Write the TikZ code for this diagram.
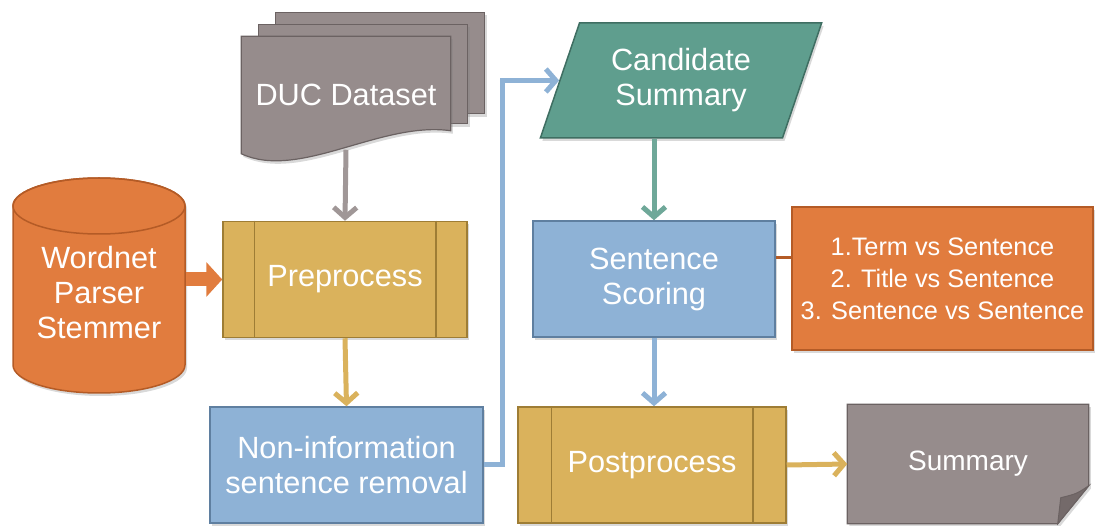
\documentclass[tikz,border=0pt]{standalone}
\usepackage{fontspec}
\setmainfont{Liberation Sans}
\usetikzlibrary{arrows.meta,shapes.geometric,shadows,backgrounds}
\definecolor{docfill}{HTML}{968C8C}
\definecolor{docline}{HTML}{6B6262}
\definecolor{goldfill}{HTML}{DAB25C}
\definecolor{goldline}{HTML}{9E7D35}
\definecolor{bluefill}{HTML}{8EB2D6}
\definecolor{blueline}{HTML}{5F7FA0}
\definecolor{orfill}{HTML}{E17C3E}
\definecolor{orline}{HTML}{B45B26}
\definecolor{greenfill}{HTML}{5F9E8E}
\definecolor{greenline}{HTML}{3F6E62}
\begin{document}
\begin{tikzpicture}[x=1pt,y=-1pt]
	\tikzstyle{shade} = [drop shadow={shadow xshift=2pt,shadow yshift=-3pt,opacity=.3}]
	\tikzstyle{block} = [rectangle,line width=1.5pt,text=white,align=center,inner sep=0pt,
		font=\fontsize{30.7}{35}\selectfont]
	\tikzstyle{process} = [block,shade,fill=goldfill,draw=goldline,minimum height=116pt]
	\tikzstyle{flow} = [line width=5pt,-{Straight Barb[length=10pt,width=23pt]}]
	\useasboundingbox (0,0) rectangle (1096,526);
	% sources
	\node[block,minimum width=208pt,minimum height=116pt] (duc) at (346,95) {DUC Dataset};
	\node[block,minimum width=172pt] (db) at (99,293) {Wordnet\\Parser\\Stemmer};
	% left column
	\node[process,minimum width=244pt] (pre) at (345,279.5) {Preprocess};
	\node[block,shade,fill=bluefill,draw=blueline,minimum width=273pt,minimum height=116pt] (noninfo) at (346.5,465) {Non-information\\sentence removal};
	% right column
	\node[block,shade,trapezium,trapezium left angle=67,trapezium right angle=113,trapezium stretches,
		fill=greenfill,draw=greenline,minimum width=282pt,minimum height=115pt] (cand) at (681,80.5) {Candidate\\Summary};
	\node[block,shade,fill=bluefill,draw=blueline,minimum width=242pt,minimum height=116pt] (scoring) at (654,279) {Sentence\\Scoring};
	\node[block,shade,fill=orfill,draw=orline,minimum width=301pt,minimum height=143pt,
		font=\fontsize{25.3}{32}\selectfont] (crit) at (942.5,278.5) {1.Term vs Sentence\\2. Title vs Sentence\\3. Sentence vs Sentence};
	\node[process,minimum width=268pt] (post) at (652,465) {Postprocess};
	\node[block,minimum width=240pt,minimum height=118pt,font=\fontsize{28}{34}\selectfont] (summ) at (968,464) {Summary};
	% bars of the process boxes
	\foreach \n/\off in {pre/32,post/34} {
		\draw[goldline,line width=1.5pt] ([xshift=\off pt]\n.north west) -- ([xshift=\off pt]\n.south west);
		\draw[goldline,line width=1.5pt] ([xshift=-\off pt]\n.north east) -- ([xshift=-\off pt]\n.south east);
	}
	% document and database outlines
	\begin{scope}[on background layer]
		\fill[docfill,draw=docline,line width=1.2pt,shade] ([shift={(34,-24)}]duc.north west) rectangle ([shift={(34,-40)}]duc.south east);
		\fill[docfill,draw=docline,line width=1.2pt,shade] ([shift={(17,-12)}]duc.north west) rectangle ([shift={(17,-30)}]duc.south east);
		\fill[docfill,draw=docline,line width=1.2pt,shade] (duc.north west) -- (duc.north east) -- ([yshift=23pt]duc.south east)
			.. controls +(-70,-10) and +(58,27) .. (duc.south west) -- cycle;
		\fill[docfill,draw=docline,line width=1.2pt,shade] (summ.north west) -- (summ.north east) -- ([yshift=38pt]summ.south east)
			-- ([xshift=-31pt]summ.south east) -- (summ.south west) -- cycle;
		\fill[docline!80!docfill,draw=docline,line width=1pt] ([yshift=38pt]summ.south east) .. controls +(-12,8) .. ([shift={(-28,-26)}]summ.south east)
			-- ([xshift=-31pt]summ.south east) -- cycle;
		\fill[orfill,draw=orline,line width=1.5pt,shade] (13,206) -- (13,365) arc[start angle=180,end angle=0,x radius=86,y radius=28]
			-- (185,206) arc[start angle=0,end angle=-180,x radius=86,y radius=28] -- cycle;
		\draw[orline,line width=1.5pt] (99,206) ellipse[x radius=86,y radius=28];
	\end{scope}
	% connectors
	\draw[flow,docfill!90!white] ([yshift=4pt]duc.south) -- (pre.north);
	\draw[line width=14pt,orfill,-{Triangle[length=16pt,width=34pt]}] (db.east |- pre.west) -- (pre.west);
	\draw[flow,goldfill] (pre.south) -- (noninfo.north);
	\draw[flow,bluefill] (noninfo.east) -- ++(19,0) |- (cand.left side);
	\draw[flow,greenfill!90!white] (scoring.north |- cand.bottom side) -- (scoring.north);
	\draw[orline,line width=3pt] ([yshift=21pt]scoring.east) -- ([yshift=21pt]scoring.east -| crit.west);
	\draw[flow,bluefill] (scoring.south) -- (scoring.south |- post.north);
	\draw[flow,goldfill] (post.east) -- (summ.west);
\end{tikzpicture}
\end{document}
